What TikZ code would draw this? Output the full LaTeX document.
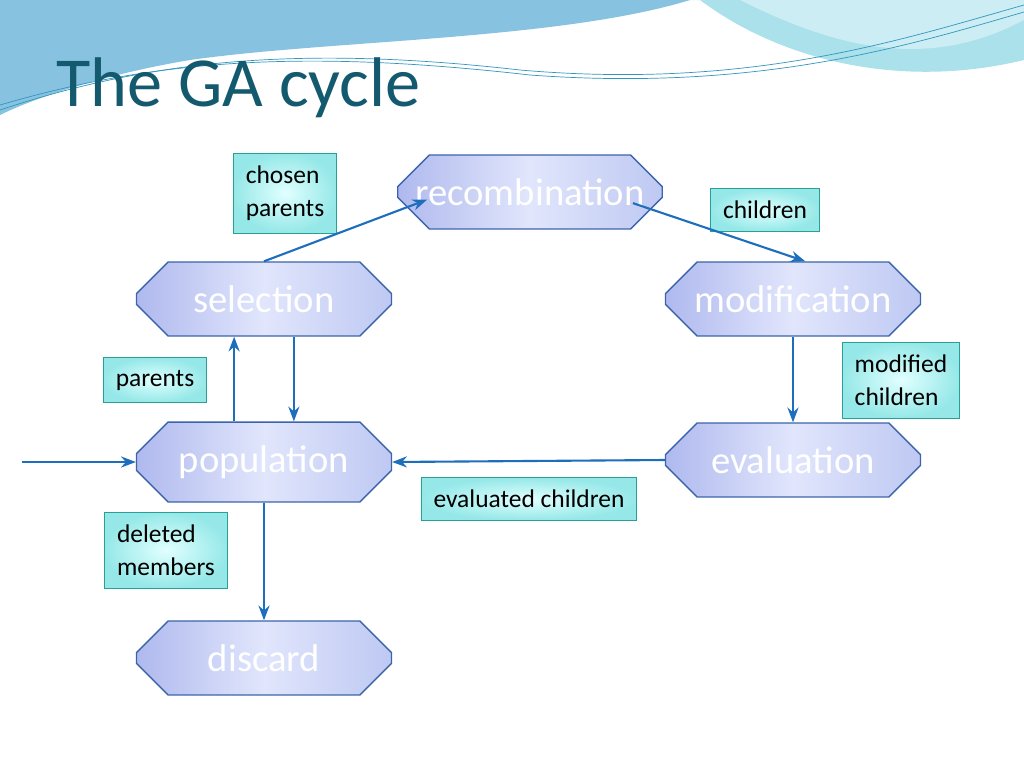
\documentclass[tikz,border=0pt]{standalone}
\usepackage{fontspec}
\setmainfont{Carlito}
\usetikzlibrary{shapes.misc, arrows.meta, positioning}
\definecolor{arrowblue}{RGB}{30,110,190}
\definecolor{edgeblue}{RGB}{60,100,170}
\definecolor{titleteal}{RGB}{20,90,110}
\definecolor{boxteal}{RGB}{40,160,150}
\definecolor{waveblue}{RGB}{135,195,225}
\definecolor{wavecyan}{RGB}{170,225,235}
\tikzstyle{stage} = [chamfered rectangle, chamfered rectangle xsep=8pt, chamfered rectangle ysep=10pt, draw=edgeblue, thick, inner xsep=2pt, minimum width=5.1cm, minimum height=1.34cm, left color={rgb,255:red,175;green,185;blue,238}, right color={rgb,255:red,190;green,200;blue,242}, middle color={rgb,255:red,225;green,230;blue,252}, text=white, font=\fontsize{22}{26}\selectfont]
\tikzstyle{tag} = [rectangle, draw=boxteal, inner color={rgb,255:red,225;green,255;blue,255}, outer color={rgb,255:red,150;green,232;blue,232}, align=left, font=\fontsize{14.5}{19}\selectfont, inner sep=7pt]
\tikzstyle{arrow} = [line width=1.2pt, arrowblue, -{Stealth}]

\begin{document}
\begin{tikzpicture}[x=0.02cm, y=-0.02cm]
    \useasboundingbox (0,0) rectangle (1024,768);
    % Background
    \fill[white] (0,0) rectangle (1024,768);
    \fill[wavecyan] (0,0) -- (700,0) .. controls (780,60) and (900,90) .. (1024,60) -- (1024,0) -- cycle;
    \fill[waveblue] (0,0) -- (690,0) .. controls (560,40) and (330,40) .. (190,60) .. controls (100,75) and (30,100) .. (0,115) -- cycle;
    \fill[wavecyan!60] (740,0) .. controls (840,50) and (930,70) .. (1024,20) -- (1024,0) -- cycle;
    \draw[cyan!50!teal, thin] (0,110) .. controls (150,60) and (300,45) .. (520,70) .. controls (750,90) and (900,40) .. (1024,5);
    \draw[cyan!50!teal, thin] (0,105) .. controls (160,58) and (310,50) .. (530,75) .. controls (760,92) and (910,45) .. (1024,12);

    % Title
    \node (title) [anchor=west, text=titleteal, font=\fontsize{40}{44}\selectfont] at (50,88) {The GA cycle};

    % Nodes
    \node (recomb) [stage] at (530,192) {recombination};
    \node (select) [stage] at (264,299) {selection};
    \node (modif) [stage] at (793,299) {modification};
    \node (popul) [stage] at (264,462) {population};
    \node (evalu) [stage] at (793,460) {evaluation};
    \node (discard) [stage] at (264,658) {discard};

    \node (chosen) [tag] at (285,193) {chosen\\parents};
    \node (children) [tag] at (765,210) {children};
    \node (parents) [tag] at (155,380) {parents};
    \node (modchildren) [tag] at (901,380) {modified\\children};
    \node (evalchildren) [tag] at (529,499) {evaluated children};
    \node (deleted) [tag] at (166,550) {deleted\\members};
    \coordinate (entry) at (22,462);

    % Arrows
    \draw [arrow] (select.north) -- ([xshift=8,yshift=8]recomb.south west);
    \draw [arrow] ([xshift=-8,yshift=6]recomb.south east) -- ([xshift=7]modif.north);
    \draw [arrow] (modif.south) -- (evalu.north);
    \draw [arrow] (evalu.west) -- (popul.east);
    \draw [arrow] ([xshift=-17]popul.north) -- ([xshift=-17]select.south);
    \draw [arrow] ([xshift=17]select.south) -- ([xshift=17]popul.north);
    \draw [arrow] (entry) -- (popul.west);
    \draw [arrow] (popul.south) -- (discard.north);

\end{tikzpicture}
\end{document}
